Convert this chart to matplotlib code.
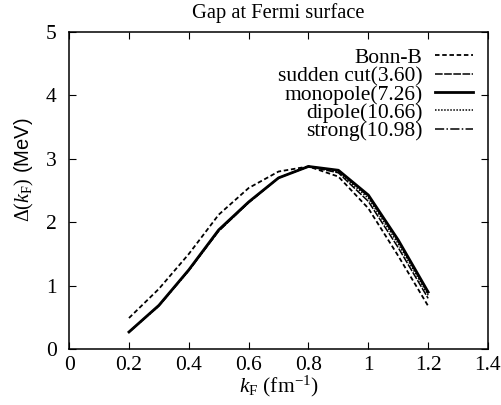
import matplotlib
matplotlib.use("Agg")
import matplotlib.pyplot as plt

plt.rcParams["font.family"] = ["Liberation Serif", "DejaVu Serif"]
plt.rcParams["mathtext.fontset"] = "custom"
plt.rcParams["mathtext.rm"] = "Liberation Serif"
plt.rcParams["mathtext.it"] = "Liberation Serif:italic"

# Fermi momentum grid (fm^-1)
kf = [0.2, 0.3, 0.4, 0.5, 0.6, 0.7, 0.8, 0.9, 1.0, 1.1, 1.2]

# gap at Fermi surface (MeV)
bonn_b = [0.49, 0.95, 1.50, 2.12, 2.54, 2.80, 2.88, 2.72, 2.22, 1.47, 0.68]
sudden_cut = [0.27, 0.69, 1.24, 1.86, 2.31, 2.70, 2.88, 2.78, 2.33, 1.60, 0.80]
monopole = [0.27, 0.69, 1.25, 1.88, 2.32, 2.70, 2.88, 2.82, 2.43, 1.72, 0.90]
dipole = [0.27, 0.68, 1.24, 1.87, 2.31, 2.70, 2.88, 2.80, 2.38, 1.66, 0.85]
strong = [0.27, 0.68, 1.24, 1.87, 2.31, 2.70, 2.88, 2.81, 2.41, 1.70, 0.88]

FS = 15.5

fig = plt.figure(figsize=(5.01, 4.05), dpi=100)
ax = fig.add_axes([0.138, 0.138, 0.836, 0.783])

ax.plot(kf, bonn_b, color="black", lw=1.3, ls=(0, (2.5, 1.5)), label="Bonn-B")
ax.plot(kf, sudden_cut, color="black", lw=1.1, ls=(0, (5, 1)), label="sudden cut(3.60)")
ax.plot(kf, monopole, color="black", lw=2.0, ls="-", label="monopole(7.26)")
ax.plot(kf, dipole, color="black", lw=1.1, ls=(0, (1, 1)), label="dipole(10.66)")
ax.plot(kf, strong, color="black", lw=1.1, ls=(0, (6, 1.5, 1, 1.5)), label="strong(10.98)")

ax.set_xlim(0, 1.4)
ax.set_ylim(0, 5)
ax.set_xticks([0, 0.2, 0.4, 0.6, 0.8, 1.0, 1.2, 1.4])
ax.set_xticklabels(["0", "0.2", "0.4", "0.6", "0.8", "1", "1.2", "1.4"])
ax.set_yticks([0, 1, 2, 3, 4, 5])
ax.tick_params(direction="in", top=True, right=True, length=5, width=0.8,
               labelsize=FS)
ax.tick_params(axis="x", pad=5)
ax.tick_params(axis="y", pad=9)
for s in ax.spines.values():
    s.set_linewidth(1.1)

ax.set_title("Gap at Fermi surface", fontsize=14.8, pad=10)
ax.set_xlabel(r"$k_\mathrm{F}$ (fm$^{-1}$)", fontsize=FS, labelpad=-1)
ax.set_ylabel(r"$\Delta(k_\mathrm{F})$ (MeV)", fontsize=14.5,
              family=["Liberation Sans", "DejaVu Sans"])
ax.yaxis.set_label_coords(-0.078, 0.565)

ax.legend(loc="upper right", bbox_to_anchor=(0.964, 0.95), frameon=False,
          markerfirst=False, fontsize=FS, handlelength=1.75,
          handletextpad=0.6, labelspacing=-0.08, borderpad=0.0,
          borderaxespad=0.0)

fig.savefig("out.png", dpi=100)
